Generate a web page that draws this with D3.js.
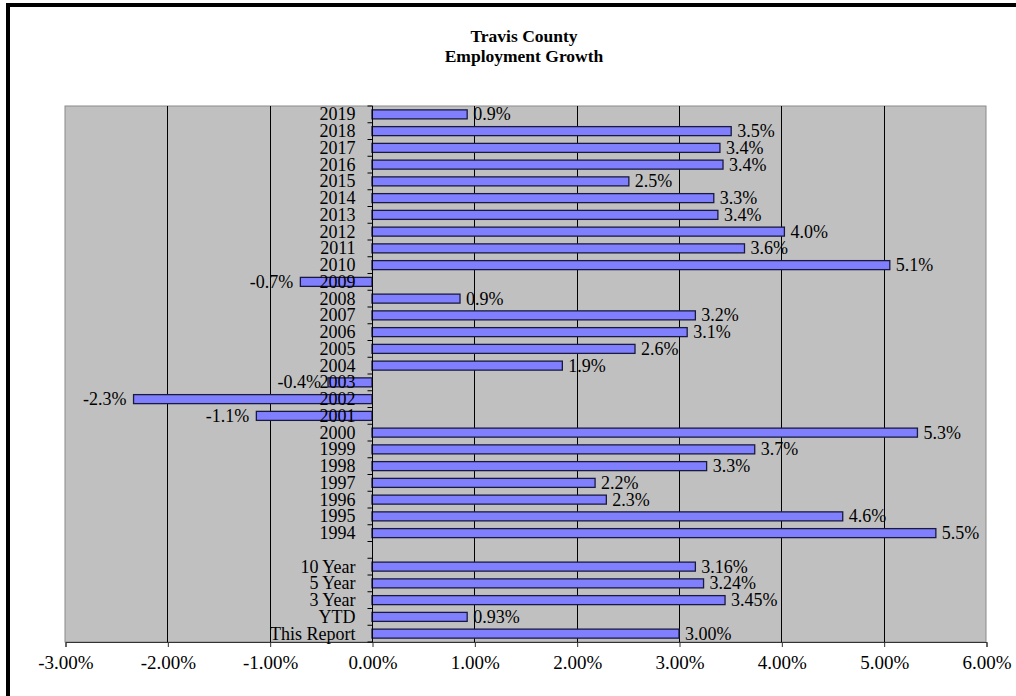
<!DOCTYPE html>
<html>
<head>
<meta charset="utf-8">
<script src="https://cdn.jsdelivr.net/npm/d3@7"></script>
<style>
  body { margin: 0; background: #fff; }
  svg text { font-family: "Liberation Serif", "Times New Roman", serif; fill: #000; }
</style>
</head>
<body>
<div id="chart"></div>
<script>
// categories top to bottom, "" is the empty spacer row
const categories = ["2019", "2018", "2017", "2016", "2015", "2014", "2013", "2012", "2011", "2010",
  "2009", "2008", "2007", "2006", "2005", "2004", "2003", "2002", "2001", "2000",
  "1999", "1998", "1997", "1996", "1995", "1994", "",
  "10 Year", "5 Year", "3 Year", "YTD", "This Report"];
const growth = [0.93, 3.51, 3.40, 3.43, 2.51, 3.34, 3.38, 4.03, 3.64, 5.06,
  -0.70, 0.86, 3.16, 3.08, 2.57, 1.86, -0.43, -2.33, -1.13, 5.33,
  3.74, 3.27, 2.18, 2.29, 4.60, 5.51, null,
  3.16, 3.24, 3.45, 0.93, 3.00];
const decimals = [1, 1, 1, 1, 1, 1, 1, 1, 1, 1,
  1, 1, 1, 1, 1, 1, 1, 1, 1, 1,
  1, 1, 1, 1, 1, 1, 0,
  2, 2, 2, 2, 2];
const xTicks = [-3, -2, -1, 0, 1, 2, 3, 4, 5, 6];
const titleLines = ["Travis County", "Employment Growth"];

const width = 1016, height = 696;
const plot = {left: 65, right: 986, top: 106, bottom: 642};

const svg = d3.select("#chart").append("svg")
  .attr("width", width)
  .attr("height", height);

// page border (top and left)
svg.append("rect").attr("x", 6).attr("y", 3).attr("width", width).attr("height", 4).attr("fill", "#000");
svg.append("rect").attr("x", 6).attr("y", 3).attr("width", 4).attr("height", height).attr("fill", "#000");

svg.selectAll(".title")
  .data(titleLines)
  .enter()
  .append("text")
  .attr("class", "title")
  .attr("x", 524)
  .attr("y", (d, i) => 42 + i * 20)
  .attr("text-anchor", "middle")
  .attr("font-size", 17.5)
  .attr("font-weight", "bold")
  .text(d => d);

const x = d3.scaleLinear().domain([-3, 6]).range([plot.left, plot.right]);
const y = d3.scaleBand().domain(categories.map((c, i) => i)).range([plot.top, plot.bottom]);

svg.append("rect")
  .attr("x", plot.left).attr("y", plot.top)
  .attr("width", plot.right - plot.left).attr("height", plot.bottom - plot.top)
  .attr("fill", "#c0c0c0")
  .attr("stroke", "#8a8a8a");

// gridlines
svg.selectAll(".grid")
  .data(xTicks.filter(t => t > -3 && t < 6))
  .enter()
  .append("line")
  .attr("class", "grid")
  .attr("x1", d => Math.round(x(d)) + 0.5).attr("x2", d => Math.round(x(d)) + 0.5)
  .attr("y1", plot.top).attr("y2", plot.bottom)
  .attr("stroke", "#000");

// x axis
const xAxis = d3.axisBottom(x)
  .tickValues(xTicks)
  .tickSize(5)
  .tickFormat(d => d.toFixed(2) + "%");
const gx = svg.append("g")
  .attr("transform", `translate(0.5,${plot.bottom})`)
  .call(xAxis);
gx.select(".domain").attr("stroke", "#333");
gx.selectAll(".tick line").attr("stroke", "#333");
gx.selectAll(".tick text")
  .attr("y", 14)
  .attr("font-size", 19)
  .attr("font-family", "Liberation Serif, serif")
  .attr("fill", "#000");

// bars
const bh = 9;
const rows = categories.map((c, i) => ({cat: c, v: growth[i], dec: decimals[i], i: i}));
const bars = rows.filter(d => d.v !== null);

svg.selectAll(".bar")
  .data(bars)
  .enter()
  .append("rect")
  .attr("class", "bar")
  .attr("x", d => x(Math.min(0, d.v)))
  .attr("y", d => y(d.i) + y.bandwidth() / 2 - bh / 2)
  .attr("width", d => Math.abs(x(d.v) - x(0)))
  .attr("height", bh)
  .attr("fill", "#8080ff")
  .attr("stroke", "#1a1a40")
  .attr("stroke-width", 1.3);

// y axis with ticks at category boundaries
const x0 = Math.round(x(0)) + 0.5;
svg.append("line")
  .attr("x1", x0).attr("x2", x0)
  .attr("y1", plot.top).attr("y2", plot.bottom)
  .attr("stroke", "#000");
svg.selectAll(".ytick")
  .data(d3.range(categories.length + 1))
  .enter()
  .append("line")
  .attr("class", "ytick")
  .attr("x1", x0 - 5).attr("x2", x0)
  .attr("y1", i => y.step() * i + plot.top).attr("y2", i => y.step() * i + plot.top)
  .attr("stroke", "#000");

// category labels
svg.selectAll(".cat")
  .data(rows)
  .enter()
  .append("text")
  .attr("class", "cat")
  .attr("x", x0 - 17)
  .attr("y", d => y(d.i) + y.bandwidth() / 2 + 6)
  .attr("text-anchor", "end")
  .attr("font-size", 18)
  .attr("fill", "#111")
  .text(d => d.cat);

// value labels
svg.selectAll(".val")
  .data(bars)
  .enter()
  .append("text")
  .attr("class", "val")
  .attr("x", d => d.v >= 0 ? x(d.v) + 6 : x(d.v) - 7)
  .attr("y", d => y(d.i) + y.bandwidth() / 2 + 6)
  .attr("text-anchor", d => d.v >= 0 ? "start" : "end")
  .attr("font-size", 18)
  .attr("fill", "#111")
  .text(d => d.v.toFixed(d.dec) + "%");
</script>
</body>
</html>
